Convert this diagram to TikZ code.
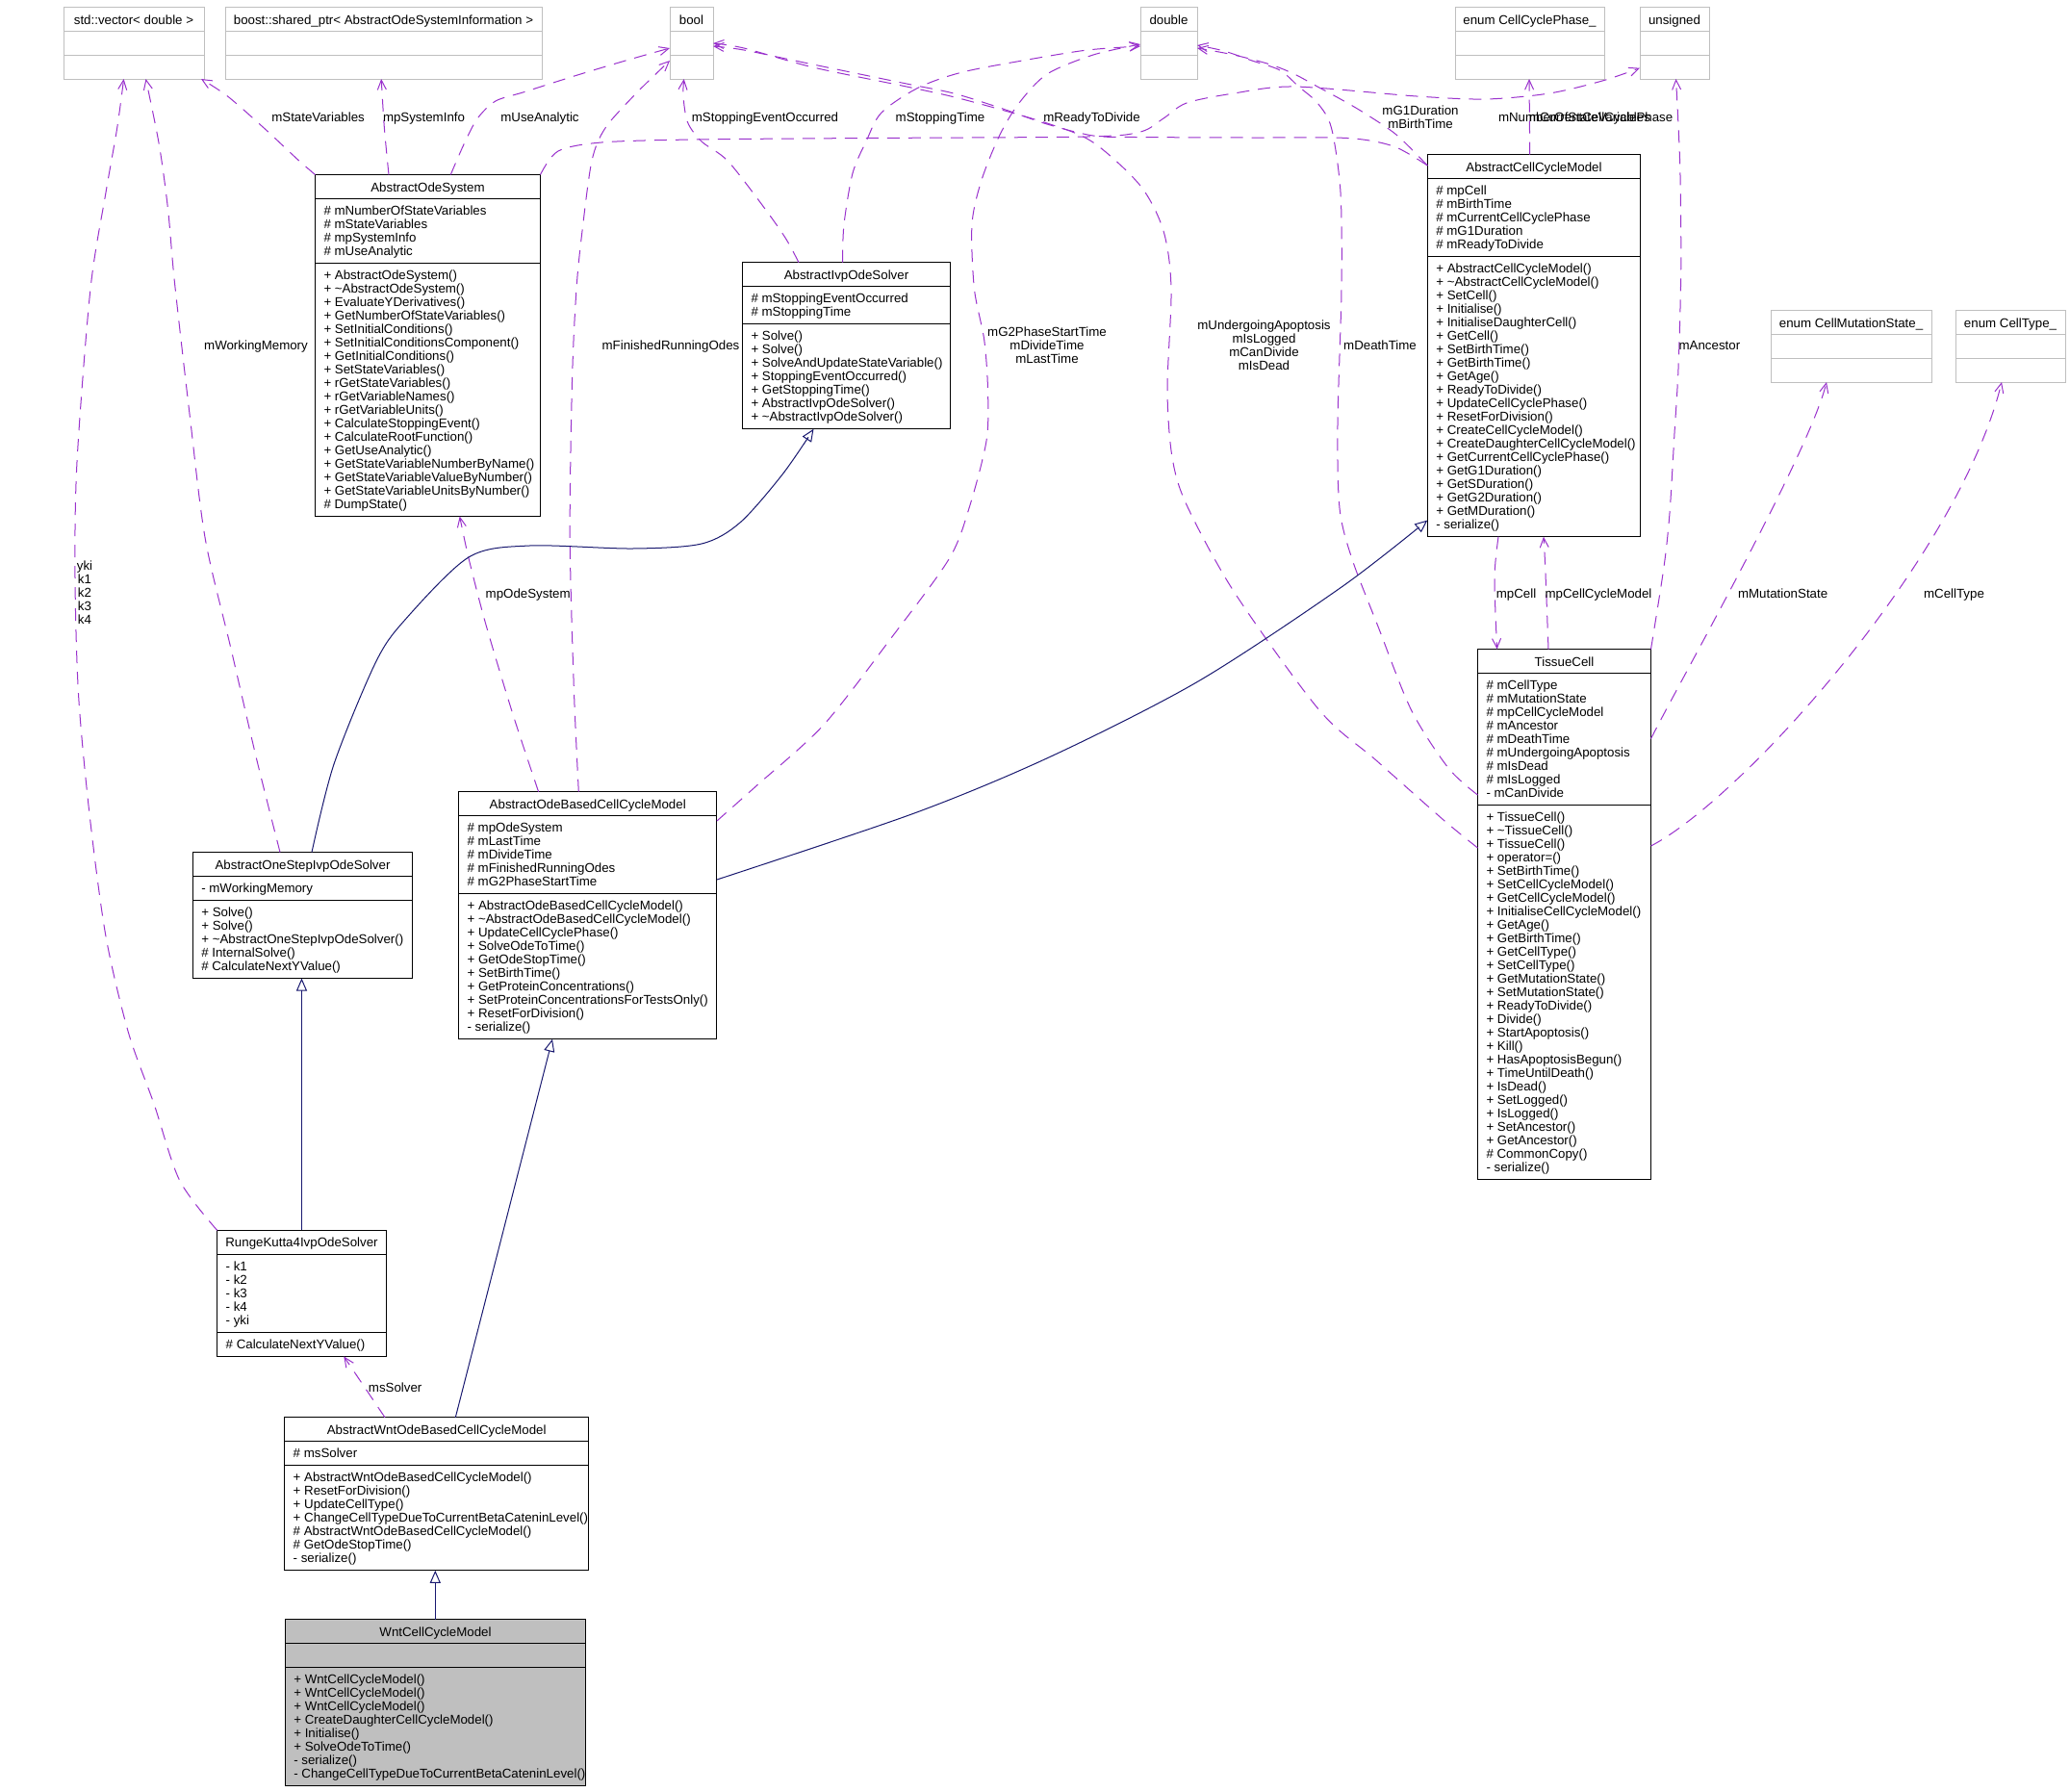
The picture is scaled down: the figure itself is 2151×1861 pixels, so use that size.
\documentclass[tikz,border=0pt]{standalone}
\usepackage{fontspec}
\setmainfont{Liberation Sans}
\usetikzlibrary{arrows.meta}
\definecolor{edgep}{HTML}{9A32CD}
\definecolor{inhc}{HTML}{191970}
\definecolor{tgray}{HTML}{BFBFBF}
\newcommand\umlfont{\fontsize{13.3}{14}\selectfont}
\tikzset{
 txt/.style={font=\umlfont, inner sep=0pt, outer sep=0pt, text=black},
 lbl/.style={font=\umlfont, inner sep=0pt, outer sep=0pt, align=center, text=black},
 clsfill/.style={},
 cls/.style={draw=black, line width=1pt, inner sep=0pt, outer sep=0pt, fill=white, clsfill},
 clsline/.style={draw=black, line width=1pt},
 tbox/.style={draw=tgray, line width=1pt, inner sep=0pt, outer sep=0pt, fill=white},
 tline/.style={draw=tgray, line width=1pt},
 usage/.style={draw=edgep, line width=1pt, dash pattern=on 13pt off 9pt, -{Straight Barb[length=10pt,width=9pt]}},
 inherit/.style={draw=inhc, line width=1pt, -{Triangle[open,length=13pt,width=11pt]}},
}
% #1 name, #2 x, #3 y, #4 w, #5 title, #6 nattr, #7 attrs, #8 nmeth, #9 methods
\newcommand\umlclass[9]{%
  \pgfmathsetmacro\uA{max(#6,1)*14+11}%
  \pgfmathsetmacro\uM{max(#8,1)*14+11}%
  \pgfmathsetmacro\uH{25+\uA+\uM}%
  \node[cls, minimum width=#4pt, minimum height=\uH pt, anchor=north west] (#1) at (#2,#3) {};
  \draw[clsline] (#2,{#3+25}) -- ++(#4,0);
  \draw[clsline] (#2,{#3+25+\uA}) -- ++(#4,0);
  \node[txt, anchor=base] at ({#2+#4/2},{#3+17.5}) {#5};
  \foreach \t [count=\i from 0] in {#7} {\node[txt, anchor=base west] at ({#2+9},{#3+42+14*\i}) {\t};}
  \foreach \t [count=\i from 0] in {#9} {\node[txt, anchor=base west] at ({#2+9},{#3+42+\uA+14*\i}) {\t};}
}
\newcommand\typebox[5]{%
  \node[tbox, minimum width=#4pt, minimum height=75pt, anchor=north west] (#1) at (#2,#3) {};
  \draw[tline] (#2,{#3+25}) -- ++(#4,0);
  \draw[tline] (#2,{#3+50}) -- ++(#4,0);
  \node[txt, anchor=base] at ({#2+#4/2},{#3+18}) {#5};
}
\begin{document}
\begin{tikzpicture}[x=1pt,y=-1pt]
\fill[white] (0,0) rectangle (2151,1861);
\useasboundingbox (0,0) rectangle (2151,1861);

% type boxes
\typebox{vec}{66}{7}{146}{std::vector< double >}
\typebox{boost}{234}{7}{329}{boost::shared\_ptr< AbstractOdeSystemInformation >}
\typebox{bool}{696}{7}{45}{bool}
\typebox{double}{1185}{7}{59}{double}
\typebox{phase}{1512}{7}{155}{enum CellCyclePhase\_}
\typebox{unsigned}{1704}{7}{72}{unsigned}
\typebox{mutation}{1840}{322}{167}{enum CellMutationState\_}
\typebox{celltype}{2032}{322}{114}{enum CellType\_}

% classes
\umlclass{AOS}{327.5}{181.5}{234}{AbstractOdeSystem}{4}{\# mNumberOfStateVariables,\# mStateVariables,\# mpSystemInfo,\# mUseAnalytic}{18}{+ AbstractOdeSystem(),+ \textasciitilde AbstractOdeSystem(),+ EvaluateYDerivatives(),+ GetNumberOfStateVariables(),+ SetInitialConditions(),+ SetInitialConditionsComponent(),+ GetInitialConditions(),+ SetStateVariables(),+ rGetStateVariables(),+ rGetVariableNames(),+ rGetVariableUnits(),+ CalculateStoppingEvent(),+ CalculateRootFunction(),+ GetUseAnalytic(),+ GetStateVariableNumberByName(),+ GetStateVariableValueByNumber(),+ GetStateVariableUnitsByNumber(),\# DumpState()}

\umlclass{AIOS}{771.5}{272.7}{216}{AbstractIvpOdeSolver}{2}{\# mStoppingEventOccurred,\# mStoppingTime}{7}{+ Solve(),+ Solve(),+ SolveAndUpdateStateVariable(),+ StoppingEventOccurred(),+ GetStoppingTime(),+ AbstractIvpOdeSolver(),+ \textasciitilde AbstractIvpOdeSolver()}

\umlclass{ACCM}{1483.3}{160.7}{221.4}{AbstractCellCycleModel}{5}{\# mpCell,\# mBirthTime,\# mCurrentCellCyclePhase,\# mG1Duration,\# mReadyToDivide}{20}{+ AbstractCellCycleModel(),+ \textasciitilde AbstractCellCycleModel(),+ SetCell(),+ Initialise(),+ InitialiseDaughterCell(),+ GetCell(),+ SetBirthTime(),+ GetBirthTime(),+ GetAge(),+ ReadyToDivide(),+ UpdateCellCyclePhase(),+ ResetForDivision(),+ CreateCellCycleModel(),+ CreateDaughterCellCycleModel(),+ GetCurrentCellCyclePhase(),+ GetG1Duration(),+ GetSDuration(),+ GetG2Duration(),+ GetMDuration(),- serialize()}

\umlclass{TC}{1535.5}{674.6}{180}{TissueCell}{9}{\# mCellType,\# mMutationState,\# mpCellCycleModel,\# mAncestor,\# mDeathTime,\# mUndergoingApoptosis,\# mIsDead,\# mIsLogged,- mCanDivide}{27}{+ TissueCell(),+ \textasciitilde TissueCell(),+ TissueCell(),+ operator=(),+ SetBirthTime(),+ SetCellCycleModel(),+ GetCellCycleModel(),+ InitialiseCellCycleModel(),+ GetAge(),+ GetBirthTime(),+ GetCellType(),+ SetCellType(),+ GetMutationState(),+ SetMutationState(),+ ReadyToDivide(),+ Divide(),+ StartApoptosis(),+ Kill(),+ HasApoptosisBegun(),+ TimeUntilDeath(),+ IsDead(),+ SetLogged(),+ IsLogged(),+ SetAncestor(),+ GetAncestor(),\# CommonCopy(),- serialize()}

\umlclass{AOSIOS}{200.3}{885.5}{228.5}{AbstractOneStepIvpOdeSolver}{1}{- mWorkingMemory}{5}{+ Solve(),+ Solve(),+ \textasciitilde AbstractOneStepIvpOdeSolver(),\# InternalSolve(),\# CalculateNextYValue()}

\umlclass{AOBCCM}{476.6}{822.7}{268.3}{AbstractOdeBasedCellCycleModel}{5}{\# mpOdeSystem,\# mLastTime,\# mDivideTime,\# mFinishedRunningOdes,\# mG2PhaseStartTime}{10}{+ AbstractOdeBasedCellCycleModel(),+ \textasciitilde AbstractOdeBasedCellCycleModel(),+ UpdateCellCyclePhase(),+ SolveOdeToTime(),+ GetOdeStopTime(),+ SetBirthTime(),+ GetProteinConcentrations(),+ SetProteinConcentrationsForTestsOnly(),+ ResetForDivision(),- serialize()}

\umlclass{RK4}{225.7}{1278.4}{175.6}{RungeKutta4IvpOdeSolver}{5}{- k1,- k2,- k3,- k4,- yki}{1}{\# CalculateNextYValue()}

\umlclass{AWOBCCM}{295.7}{1472.8}{316}{AbstractWntOdeBasedCellCycleModel}{1}{\# msSolver}{7}{+ AbstractWntOdeBasedCellCycleModel(),+ ResetForDivision(),+ UpdateCellType(),+ ChangeCellTypeDueToCurrentBetaCateninLevel(),\# AbstractWntOdeBasedCellCycleModel(),\# GetOdeStopTime(),- serialize()}

\tikzset{clsfill/.style={fill=tgray}}
\umlclass{Wnt}{296.3}{1682.5}{312.4}{WntCellCycleModel}{0}{}{8}{+ WntCellCycleModel(),+ WntCellCycleModel(),+ WntCellCycleModel(),+ CreateDaughterCellCycleModel(),+ Initialise(),+ SolveOdeToTime(),- serialize(),- ChangeCellTypeDueToCurrentBetaCateninLevel()}
\tikzset{clsfill/.style={}}

% usage edges
\draw[usage] plot[smooth] coordinates {(AOS.north west) (308.5,165) (274.6,133.3) (236.5,100) ([shift={(143,75)}]vec.north west)};
\draw[usage] plot[smooth] coordinates {([shift={(76.5,0)}]AOS.north west) (399.4,133.3) ([shift={(162.2,75)}]boost.north west)};
\draw[usage] plot[smooth] coordinates {([shift={(140.8,0)}]AOS.north west) (482,150) (496,123.3) (515,105) (545,95.5) (600,78) (650,63) ([shift={(0,43)}]bool.north west)};
\draw[usage] plot[smooth] coordinates {(AOS.north east) (580,157) (625,148) (720,145) (900,143.5) (1130,142) (1185,137) (1209,123) (1233,107) (1282,97) (1345,90) (1472,100) (1544,103) (1610,97) (1665,84) ([shift={(0,63.7)}]unsigned.north west)};
\draw[usage] plot[smooth] coordinates {([shift={(58.5,0)}]AIOS.north west) (816,247) (792,213) (756,167) (729,147) (714.5,127) (710,100) ([shift={(14.7,75)}]bool.north west)};
\draw[usage] plot[smooth] coordinates {([shift={(104,0)}]AIOS.north west) (877,233) (886,180) (900,147) (916,117) (954.5,91) (1000,75) (1068,62) (1130,52) ([shift={(0,41)}]double.north west)};
\draw[usage] plot[smooth] coordinates {([shift={(0,11.3)}]ACCM.north west) (1448,152) (1400,143.5) (1300,143) (1180,142.5) (1136,141) (1088,129) (1039,112) (991,97) (942,87) (845,67) (773,52) ([shift={(45,41)}]bool.north west)};
\draw[usage] plot[smooth] coordinates {([shift={(0,11.3)}]ACCM.north west) (1451,140) (1417,117) (1393,103) (1369,90) (1345,77) (1320,67) (1282,57) ([shift={(59,43)}]double.north west)};
\draw[usage] ([shift={(106.4,0)}]ACCM.north west) -- ([shift={(77,75)}]phase.north west);
\draw[usage] plot[smooth] coordinates {([shift={(124.7,0)}]AOBCCM.north west) (596.4,716.7) (592.2,556.7) (594.6,393) (599,300) (605,240) (615,167) (629,133) (661,97) ([shift={(0,56)}]bool.north west)};
\draw[usage] plot[smooth] coordinates {([shift={(268.3,30.3)}]AOBCCM.north west) (785.8,816.7) (856,753) (926,663) (986,581) (1007,528) (1025,458) (1026.5,405) (1022.7,353) (1012.4,300) (1010,233) (1020,187) (1039,140) (1059,107) (1088,77) (1136,57) ([shift={(0,39)}]double.north west)};
\draw[usage] plot[smooth] coordinates {([shift={(0,206.4)}]TC.north west) (1500,852) (1430,790) (1371,738) (1283,616) (1233,524.5) (1218,475) (1213,405) (1217,300) (1209,240) (1185,193) (1136,148) (1088,128) (1000,103) (942,90) (845,70) (773,50) ([shift={(45,38)}]bool.north west)};
\draw[usage] plot[smooth] coordinates {([shift={(0,151.4)}]TC.north west) (1505,798) (1466.6,738) (1432,651) (1405,581) (1392,528) (1390,440) (1394,300) (1393,200) (1383.5,133) (1369,107) (1349.5,90) (1330,73) (1301,63) (1272,53) ([shift={(59,40)}]double.north west)};
\draw[usage] plot[smooth] coordinates {(TC.north east) (1729,589) (1735,533) (1740,450) (1744,383) (1746.7,283) (1746,183) (1743.5,120) ([shift={(37.5,75)}]unsigned.north west)};
\draw[usage] ([shift={(180,92.9)}]TC.north west) .. controls (1750,700) and (1880,470) .. ([shift={(58,75)}]mutation.north west);
\draw[usage] ([shift={(180,204.4)}]TC.north west) .. controls (1810,830) and (2035,580) .. ([shift={(48,75)}]celltype.north west);
\draw[usage] plot[smooth] coordinates {([shift={(73.7,397)}]ACCM.north west) (1553,600) ([shift={(20.1,0)}]TC.north west)};
\draw[usage] plot[smooth] coordinates {([shift={(73.5,0)}]TC.north west) (1605.7,589) ([shift={(120.7,397)}]ACCM.north west)};
\draw[usage] plot[smooth] coordinates {(RK4.north west) (186.7,1226.6) (160,1147) (133.3,1072.4) (110,973) (93.3,848.5) (81.7,724) (78,600) (80,480) (94,300) (110,200) (121.7,133) ([shift={(62.6,75)}]vec.north west)};
\draw[usage] plot[smooth] coordinates {([shift={(90.7,0)}]AOSIOS.north west) (266.7,789) (240,674) (213.3,560) (197,430) (181.4,293) (174.5,217) (165.3,150) ([shift={(85.5,75)}]vec.north west)};
\draw[usage] plot[smooth] coordinates {([shift={(83,0)}]AOBCCM.north west) (533.3,743.3) (505.2,650) (487,580) ([shift={(150.2,355)}]AOS.north west)};
\draw[usage] ([shift={(104.3,0)}]AWOBCCM.north west) -- ([shift={(131.6,131)}]RK4.north west);

% inheritance edges
\draw[inherit] plot[smooth] coordinates {([shift={(123.7,0)}]AOSIOS.north west) (347,794) (390,689) (420,645) (487,579) (550,567) (657,570) (729,565) (769,543) (813,493) ([shift={(74,173)}]AIOS.north west)};
\draw[inherit] ([shift={(87.8,0)}]RK4.north west) -- ([shift={(113.2,131)}]AOSIOS.north west);
\draw[inherit] plot[smooth] coordinates {([shift={(268.3,91.3)}]AOBCCM.north west) (950,845) (1092,786) (1245,708) (1394,610) ([shift={(0,379.9)}]ACCM.north west)};
\draw[inherit] ([shift={(177.6,0)}]AWOBCCM.north west) -- ([shift={(97.4,257)}]AOBCCM.north west);
\draw[inherit] ([shift={(156,0)}]Wnt.north west) -- ([shift={(156.6,159)}]AWOBCCM.north west);

% edge labels
\node[lbl, anchor=base] (l1) at (330.6,126.4) {mStateVariables};
\node[lbl, anchor=base] (l2) at (440.5,126.4) {mpSystemInfo};
\node[lbl, anchor=base] (l3) at (561,126.4) {mUseAnalytic};
\node[lbl, anchor=base] (l4) at (795,126.4) {mStoppingEventOccurred};
\node[lbl, anchor=base] (l5) at (977,126.4) {mStoppingTime};
\node[lbl, anchor=base] (l6) at (1134.5,126.4) {mReadyToDivide};
\node[lbl] (l7) at (1476,122) {mG1Duration\\mBirthTime};
\node[lbl, anchor=base] (l8) at (1636,126.4) {mNumberOfStateVariables};
\node[lbl, anchor=base] (l9) at (1663.6,126.4) {mCurrentCellCyclePhase};
\node[lbl, anchor=base] (l10) at (266,363.7) {mWorkingMemory};
\node[lbl, anchor=base] (l11) at (697,363.7) {mFinishedRunningOdes};
\node[lbl] (l12) at (1088,358.6) {mG2PhaseStartTime\\mDivideTime\\mLastTime};
\node[lbl] (l13) at (1313.5,358.6) {mUndergoingApoptosis\\mIsLogged\\mCanDivide\\mIsDead};
\node[lbl, anchor=base] (l14) at (1434,363.3) {mDeathTime};
\node[lbl, anchor=base] (l15) at (1776.4,363.7) {mAncestor};
\node[lbl] (l16) at (88,616) {yki\\k1\\k2\\k3\\k4};
\node[lbl, anchor=base] (l17) at (548.7,621.4) {mpOdeSystem};
\node[lbl, anchor=base] (l18) at (1575.5,621.3) {mpCell};
\node[lbl, anchor=base] (l19) at (1661,621.3) {mpCellCycleModel};
\node[lbl, anchor=base] (l20) at (1852.6,621.3) {mMutationState};
\node[lbl, anchor=base] (l21) at (2030.5,621.3) {mCellType};
\node[lbl, anchor=base] (l22) at (410.7,1446.5) {msSolver};
\end{tikzpicture}
\end{document}
